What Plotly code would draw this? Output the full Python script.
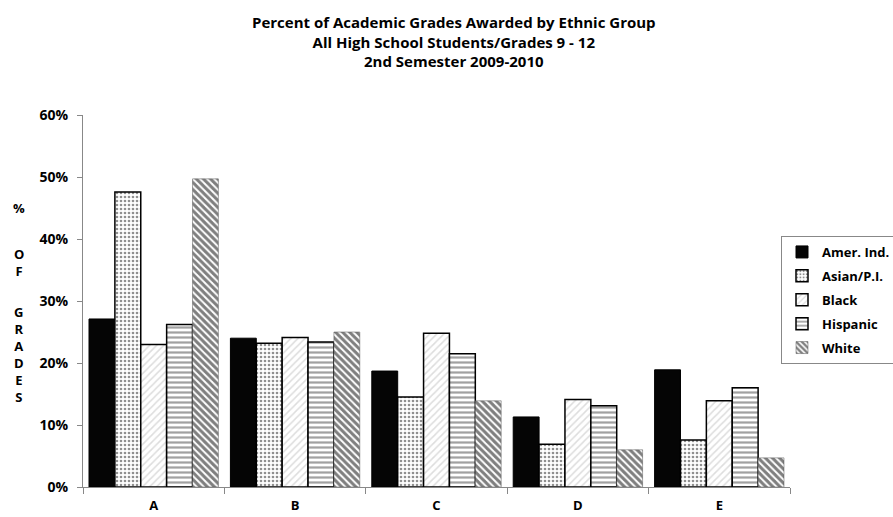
import plotly.graph_objects as go

categories = ["A", "B", "C", "D", "E"]
groups = ["Amer. Ind.", "Asian/P.I.", "Black", "Hispanic", "White"]
amer_ind = [27.1, 24.0, 18.7, 11.3, 18.9]
asian_pi = [47.6, 23.2, 14.5, 6.9, 7.6]
black = [23.0, 24.1, 24.8, 14.1, 13.9]
hispanic = [26.2, 23.4, 21.5, 13.1, 16.0]
white = [49.7, 25.0, 13.9, 6.0, 4.7]
y_ticks = [0, 10, 20, 30, 40, 50, 60]
y_tick_labels = ["0%", "10%", "20%", "30%", "40%", "50%", "60%"]
title_lines = ["Percent of Academic Grades Awarded by Ethnic Group",
               "All High School Students/Grades 9 - 12",
               "2nd Semester 2009-2010"]
axis_title_words = ["%", "OF", "GRADES"]

series = [amer_ind, asian_pi, black, hispanic, white]
styles = [
    dict(color="#050505", pattern=dict(shape=""), line=dict(color="#000", width=1)),
    dict(color="#ffffff", pattern=dict(shape=".", fgcolor="#222", size=4, solidity=0.35), line=dict(color="#000", width=1.5)),
    dict(color="#ffffff", pattern=dict(shape="/", fgcolor="#bbb", size=5, solidity=0.3), line=dict(color="#000", width=1.5)),
    dict(color="#ffffff", pattern=dict(shape="-", fgcolor="#444", size=5, solidity=0.45), line=dict(color="#000", width=1.5)),
    dict(color="#ffffff", pattern=dict(shape="\\", fgcolor="#000", size=5, solidity=0.6), line=dict(color="#555", width=0.5)),
]

# plot area in pixels (for converting annotation positions)
PL, PR, PT, PB = 83, 790, 115, 487
def px_x(x):
    return (x - PL) / (PR - PL)
def px_y(y):
    return (PB - y) / (PB - PT)

font = "Open Sans"
fig = go.Figure()
for name, vals, st in zip(groups, series, styles):
    fig.add_trace(go.Bar(
        x=categories, y=vals, name=name, legendgroup=name,
        marker=dict(color=st["color"], pattern=st["pattern"], line=st["line"]),
    ))

fig.update_layout(
    width=893, height=517,
    margin=dict(l=PL, r=893 - PR, t=PT, b=517 - PB, autoexpand=False),
    paper_bgcolor="white", plot_bgcolor="white",
    barmode="group", bargap=0.085, bargroupgap=0,
    font=dict(family=font, color="#000", size=13),
    legend=dict(
        xref="container", yref="container",
        x=781 / 893, xanchor="left", y=1 - 236 / 517, yanchor="top",
        bordercolor="#888", borderwidth=1, bgcolor="white",
        font=dict(family=font, size=13, color="#000", weight="bold"),
        itemwidth=30, tracegroupgap=4,
    ),
    showlegend=True,
)
fig.add_annotation(
    text="<b>" + "<br>".join(title_lines) + "</b>",
    xref="paper", yref="paper", x=px_x(454), y=px_y(10),
    xanchor="center", yanchor="top", showarrow=False, align="center",
    font=dict(family=font, size=15, color="#000"),
)
fig.update_yaxes(
    range=[0, 60], tickvals=y_ticks, ticktext=["<b>%s</b>" % t for t in y_tick_labels],
    showgrid=False, showline=True, linecolor="#888", linewidth=1,
    ticks="outside", ticklen=5, tickcolor="#888", zeroline=False,
    ticklabelstandoff=6, automargin=False,
    tickfont=dict(family=font, size=14),
)
fig.update_xaxes(
    showgrid=False, showline=True, linecolor="#888", linewidth=1,
    ticks="outside", tickson="boundaries", ticklen=6, tickcolor="#888",
    ticklabelstandoff=6, automargin=False,
    tickfont=dict(family=font, size=13, weight="bold"),
)
# stacked vertical axis title: centre y (px) of each word block
word_centre_px = [208, 262, 354]
for word, py in zip(axis_title_words, word_centre_px):
    fig.add_annotation(
        text="<b>%s</b>" % "<br>".join(word),
        xref="paper", yref="paper", x=px_x(19), y=px_y(py),
        xanchor="center", yanchor="middle", align="center",
        showarrow=False, font=dict(family=font, size=13, color="#000"),
    )
fig.write_html("out.html")
